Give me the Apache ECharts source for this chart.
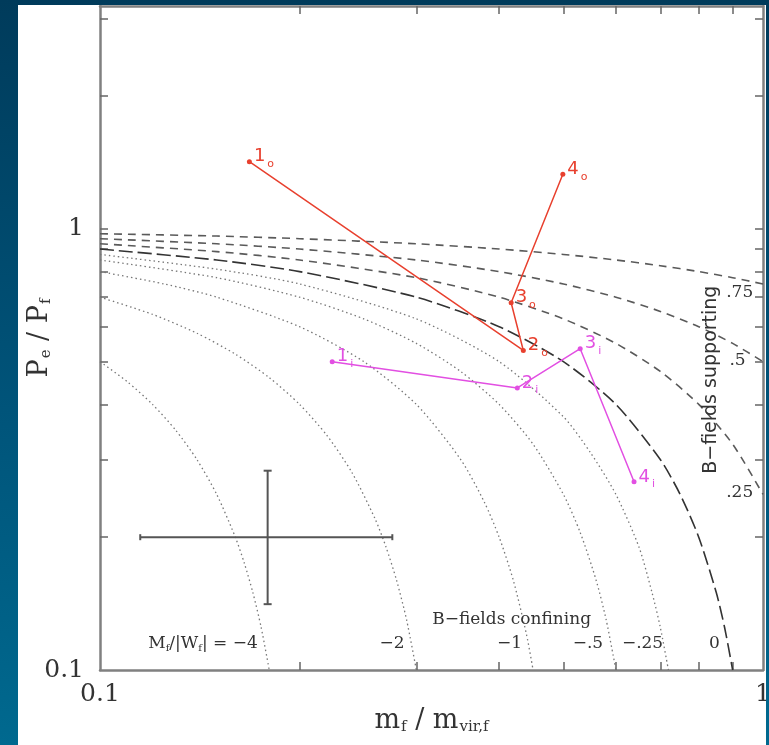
<!DOCTYPE html>
<html>
<head>
<meta charset="utf-8">
<script src="https://cdn.jsdelivr.net/npm/echarts@6/dist/echarts.min.js"></script>
<style>
  html, body { margin: 0; padding: 0; }
  body {
    width: 769px; height: 745px; overflow: hidden; position: relative;
    background: linear-gradient(180deg, #003b5b 0%, #00547a 55%, #00698f 100%);
  }
  #chart { position: absolute; left: 18px; top: 5px; width: 748px; height: 740px; background: #fff; }
</style>
</head>
<body>
<div id="chart"></div>
<script>
// axis ticks / labels
const X_TICKS = [0.2, 0.3, 0.4, 0.5, 0.6, 0.7, 0.8, 0.9];
const Y_TICKS = [0.2, 0.3, 0.4, 0.5, 0.6, 0.7, 0.8, 0.9, 1, 2, 3];
const X_LABELS = [0.1, 1];
const Y_LABELS = [0.1, 1];
const Y_MAX = 3.2;

// M_f/|W_f| curves as [m_f/m_vir, Pe/Pf]
const curveP75 = [[0.1, 0.975], [0.15, 0.963], [0.2, 0.95], [0.3, 0.925], [0.4, 0.9], [0.5, 0.875], [0.6, 0.85], [0.7, 0.825], [0.8, 0.8], [0.9, 0.775], [1.0, 0.75]];
const curveP50 = [[0.1, 0.95], [0.15, 0.925], [0.2, 0.9], [0.3, 0.85], [0.4, 0.8], [0.5, 0.75], [0.6, 0.7], [0.7, 0.65], [0.8, 0.6], [0.9, 0.55], [1.0, 0.5]];
const curveP25 = [[0.1, 0.925], [0.15, 0.888], [0.2, 0.85], [0.3, 0.775], [0.4, 0.7], [0.5, 0.625], [0.6, 0.55], [0.7, 0.475], [0.8, 0.4], [0.9, 0.325], [1.0, 0.25]];
const curveZero = [[0.1, 0.9], [0.15, 0.85], [0.2, 0.8], [0.3, 0.7], [0.4, 0.6], [0.5, 0.5], [0.6, 0.4], [0.7, 0.3], [0.75, 0.25], [0.8, 0.2], [0.85, 0.15], [0.875, 0.125], [0.9, 0.1]];
const curveM25 = [[0.1, 0.875], [0.15, 0.81], [0.2, 0.75], [0.3, 0.625], [0.4, 0.5], [0.5, 0.375], [0.55, 0.31], [0.6, 0.25], [0.65, 0.19], [0.68, 0.15], [0.7, 0.125], [0.72, 0.1]];
const curveM50 = [[0.1, 0.85], [0.15, 0.775], [0.2, 0.7], [0.25, 0.625], [0.3, 0.55], [0.35, 0.475], [0.4, 0.4], [0.45, 0.325], [0.5, 0.25], [0.53, 0.205], [0.56, 0.16], [0.58, 0.13], [0.6, 0.1]];
const curveM1 = [[0.1, 0.8], [0.125, 0.75], [0.15, 0.7], [0.2, 0.6], [0.25, 0.5], [0.3, 0.4], [0.35, 0.3], [0.38, 0.24], [0.4, 0.2], [0.42, 0.16], [0.44, 0.12], [0.45, 0.1]];
const curveM2 = [[0.1, 0.7], [0.12, 0.64], [0.14, 0.58], [0.16, 0.52], [0.18, 0.46], [0.2, 0.4], [0.22, 0.34], [0.24, 0.28], [0.26, 0.22], [0.27, 0.19], [0.28, 0.16], [0.29, 0.13], [0.3, 0.1]];
const curveM4 = [[0.1, 0.5], [0.11, 0.45], [0.12, 0.4], [0.13, 0.35], [0.14, 0.3], [0.15, 0.25], [0.16, 0.2], [0.165, 0.175], [0.17, 0.15], [0.175, 0.125], [0.18, 0.1]];

// the two sets of cloud points
const OUTER_M = [0.168, 0.435, 0.417, 0.499];
const OUTER_P = [1.42, 0.53, 0.68, 1.33];
const INNER_M = [0.224, 0.426, 0.530, 0.639];
const INNER_P = [0.50, 0.436, 0.535, 0.267];

// typical error bar
const ERR_CENTER = [0.179, 0.2];
const ERR_X = [0.115, 0.276];
const ERR_Y = [0.141, 0.283];

const serif = '"DejaVu Serif", "Liberation Serif", serif';
const sans = '"DejaVu Sans", "Liberation Sans", sans-serif';
const red = '#e8402e';
const magenta = '#e24fe2';

const supportStyle = { color: '#5a5a5a', width: 1.6, type: [8, 6] };
const zeroStyle = { color: '#333', width: 1.6, type: [14, 5] };
const confineStyle = { color: '#777', width: 1.3, type: [1.5, 3] };

const curves = [
  [curveP75, supportStyle], [curveP50, supportStyle], [curveP25, supportStyle],
  [curveZero, zeroStyle],
  [curveM25, confineStyle], [curveM50, confineStyle], [curveM1, confineStyle],
  [curveM2, confineStyle], [curveM4, confineStyle]
];

const rich = {
  a: { fontFamily: serif, fontSize: 17, color: '#333' },
  t: { fontFamily: serif, fontSize: 10, color: '#333', padding: [10, 0, 0, 0] },
  q: { fontFamily: sans, fontSize: 19, color: '#333' }
};

const notes = [
  { at: [0.173, 0.115], text: '{a|M}{t|f}{a|/|W}{t|f}{a|| = −4}', align: 'right' },
  { at: [0.288, 0.115], text: '{a|−2}', align: 'right' },
  { at: [0.433, 0.115], text: '{a|−1}', align: 'right' },
  { at: [0.574, 0.115], text: '{a|−.5}', align: 'right' },
  { at: [0.707, 0.115], text: '{a|−.25}', align: 'right' },
  { at: [0.861, 0.115], text: '{a|0}', align: 'right' },
  { at: [0.317, 0.13], text: '{a|B−fields confining}', align: 'left' },
  { at: [0.88, 0.716], text: '{a|.75}', align: 'left' },
  { at: [0.89, 0.503], text: '{a|.5}', align: 'left' },
  { at: [0.88, 0.252], text: '{a|.25}', align: 'left' },
  { at: [0.835, 0.455], text: '{q|B−fields supporting}', align: 'center', rot: 90 }
];

const gray = '#808080';
function frameAxis(pos, max, ticks, extra) {
  return Object.assign({
    type: 'log', logBase: 10, position: pos, min: 0.1, max: max,
    axisLine: { show: true, onZero: false, lineStyle: { color: gray, width: 2.5 } },
    axisTick: { show: true, inside: true, length: 8, customValues: ticks, lineStyle: { color: '#666', width: 1.5 } },
    axisLabel: { show: false },
    splitLine: { show: false },
    minorTick: { show: false },
    axisPointer: { show: false }
  }, extra || {});
}

const tickFont = { fontFamily: serif, fontSize: 25, color: '#333' };
const nameRich = {
  b: { fontFamily: serif, fontSize: 27, color: '#333' },
  s: { fontFamily: serif, fontSize: 15, color: '#333', padding: [14, 0, 0, 1] }
};

const option = {
  animation: false,
  backgroundColor: '#fff',
  grid: { left: 82, top: 1, right: 3, bottom: 75, containLabel: false, outerBoundsMode: 'none' },
  xAxis: [
    frameAxis('bottom', 1, X_TICKS, {
      axisLabel: Object.assign({ show: true, customValues: X_LABELS, margin: 12, formatter: v => (v < 0.5 ? '0.1' : '1') }, tickFont),
      name: '{b|m}{s|f}{b| / m}{s|vir,f}',
      nameLocation: 'middle', nameGap: 36, nameMoveOverlap: false,
      nameTextStyle: { rich: nameRich }
    }),
    frameAxis('top', 1, X_TICKS)
  ],
  yAxis: [
    frameAxis('left', Y_MAX, Y_TICKS, {
      axisLabel: Object.assign({ show: true, customValues: Y_LABELS, margin: 16, formatter: v => (v < 0.5 ? '0.1' : '1') }, tickFont),
      name: '{b|P}{s|e}{b| / P}{s|f}',
      nameLocation: 'middle', nameGap: 46, nameMoveOverlap: false,
      nameTextStyle: { rich: nameRich }
    }),
    frameAxis('right', Y_MAX, Y_TICKS)
  ],
  series: [
    ...curves.map(([pts, ls]) => ({
      type: 'line', data: pts, showSymbol: false, smooth: 0.25,
      lineStyle: ls, silent: true, z: 2
    })),
    {
      type: 'custom', silent: true, z: 3,
      data: [ERR_CENTER],
      renderItem: (params, api) => {
        const l = api.coord([ERR_X[0], ERR_CENTER[1]]);
        const r = api.coord([ERR_X[1], ERR_CENTER[1]]);
        const t = api.coord([ERR_CENTER[0], ERR_Y[1]]);
        const b = api.coord([ERR_CENTER[0], ERR_Y[0]]);
        const st = { stroke: '#555', lineWidth: 2 };
        const seg = (x1, y1, x2, y2) => ({ type: 'line', shape: { x1, y1, x2, y2 }, style: st });
        return {
          type: 'group', children: [
            seg(l[0], l[1], r[0], r[1]),
            seg(t[0], t[1], b[0], b[1]),
            seg(l[0], l[1] - 3, l[0], l[1] + 3),
            seg(r[0], r[1] - 3, r[0], r[1] + 3),
            seg(t[0] - 4, t[1], t[0] + 4, t[1]),
            seg(b[0] - 4, b[1], b[0] + 4, b[1])
          ]
        };
      }
    },
    {
      type: 'line', z: 5,
      data: OUTER_M.map((m, i) => [m, OUTER_P[i]]),
      lineStyle: { color: red, width: 1.5 },
      symbol: 'circle', symbolSize: 5, itemStyle: { color: red },
      label: {
        show: true, position: 'right', distance: 2, offset: [0, -5],
        formatter: p => `{n|${p.dataIndex + 1}}{s|o}`,
        rich: { n: { fontFamily: sans, fontSize: 18, color: red }, s: { fontFamily: sans, fontSize: 11, color: red, padding: [15, 0, 0, 2] } }
      }
    },
    {
      type: 'line', z: 5,
      data: INNER_M.map((m, i) => [m, INNER_P[i]]),
      lineStyle: { color: magenta, width: 1.5 },
      symbol: 'circle', symbolSize: 5, itemStyle: { color: magenta },
      label: {
        show: true, position: 'right', distance: 2, offset: [0, -5],
        formatter: p => `{n|${p.dataIndex + 1}}{s|i}`,
        rich: { n: { fontFamily: sans, fontSize: 18, color: magenta }, s: { fontFamily: sans, fontSize: 11, color: magenta, padding: [15, 0, 0, 2] } }
      }
    },
    {
      type: 'custom', silent: true, z: 4,
      data: notes.map(n => n.at),
      renderItem: (params, api) => {
        const n = notes[params.dataIndex];
        const p = api.coord(n.at);
        return {
          type: 'text', x: p[0], y: p[1],
          rotation: n.rot ? n.rot * Math.PI / 180 : 0,
          style: { text: n.text, rich: rich, align: n.align, verticalAlign: 'middle', fill: '#333' }
        };
      }
    }
  ]
};

const chart = echarts.init(document.getElementById('chart'));
chart.setOption(option);
</script>
</body>
</html>
